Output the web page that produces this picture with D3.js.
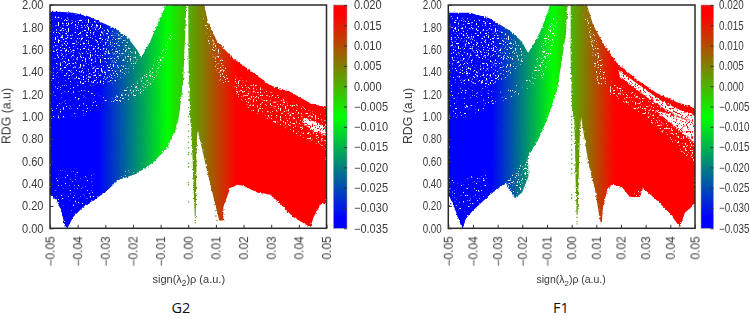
<!DOCTYPE html>
<html>
<head>
<meta charset="utf-8">
<script src="https://cdn.jsdelivr.net/npm/d3@7/dist/d3.min.js"></script>
<style>
html, body { margin: 0; padding: 0; background: #fff; }
svg { display: block; }
text { font-family: "Liberation Sans", sans-serif; fill: #3a3a3a; }
</style>
</head>
<body>
<div id="chart"></div>
<script>
// axes
var xTicks = [-0.05, -0.04, -0.03, -0.02, -0.01, 0, 0.01, 0.02, 0.03, 0.04, 0.05];
var yTicks = [0, 0.2, 0.4, 0.6, 0.8, 1.0, 1.2, 1.4, 1.6, 1.8, 2.0];
var cbarTicks = [0.02, 0.015, 0.01, 0.005, 0, -0.005, -0.01, -0.015, -0.02, -0.025, -0.03, -0.035];
var paletteValues = [-0.035, -0.0325, -0.0075, 0.0175, 0.02];
var paletteColors = ['#0000ff', '#0000ff', '#00ff00', '#ff0000', '#ff0000'];

// G2: outlines of the point clouds as [sign(l2)rho, RDG]
var g2LeftCloud = [[-0.05, 1.94], [-0.0464, 1.94], [-0.0417, 1.93], [-0.0362, 1.90], [-0.0319, 1.85], [-0.0264, 1.79], [-0.0217, 1.70], [-0.0185, 1.60], [-0.0170, 1.53], [-0.0138, 1.67], [-0.0109, 1.84], [-0.0080, 2.0], [-0.0007, 2.0], [-0.0011, 1.75], [-0.0018, 1.33], [-0.0029, 1.085], [-0.0036, 0.97], [-0.0047, 0.88], [-0.0076, 0.72], [-0.0127, 0.59], [-0.0185, 0.49], [-0.0254, 0.43], [-0.0301, 0.32], [-0.0380, 0.19], [-0.0417, 0.10], [-0.0435, 0.01], [-0.0446, 0.01], [-0.0457, 0.14], [-0.0475, 0.25], [-0.05, 0.30]];
var g2RightCloud = [[0, 2.0], [0.0058, 2.0], [0.0072, 1.84], [0.0105, 1.67], [0.0163, 1.52], [0.0232, 1.40], [0.0297, 1.28], [0.0370, 1.22], [0.0442, 1.12], [0.05, 1.08], [0.05, 0.23], [0.0478, 0.21], [0.0453, 0.10], [0.0442, 0.01], [0.0380, 0.10], [0.0333, 0.22], [0.0297, 0.30], [0.0250, 0.32], [0.0199, 0.38], [0.0178, 0.39], [0.0152, 0.36], [0.0127, 0.19], [0.0127, 0.07], [0.0112, 0.07], [0.0091, 0.28], [0.0062, 0.58], [0.0034, 0.88], [0.0031, 0.79], [0.0029, 0.43], [0.0027, 0.09], [0.0024, 0.09], [0.0018, 0.43], [0.0016, 0.61], [0.0011, 0.88], [0.0007, 0.97], [0.0001, 1.51]];
var g2Dense = [
    [[-0.049, 1.9], [-0.035, 1.88], [-0.024, 1.72], [-0.0175, 1.55], [-0.020, 1.42], [-0.027, 1.30], [-0.037, 1.27], [-0.049, 1.45]],
    [[-0.0058, 1.73], [-0.0101, 1.42], [-0.0138, 1.28], [-0.0192, 1.17], [-0.0283, 1.10], [-0.0275, 1.16], [-0.0210, 1.28], [-0.0145, 1.40], [-0.0101, 1.55], [-0.0058, 1.77]],
    [[0.0051, 1.93], [0.0072, 1.66], [0.0116, 1.30], [0.0152, 1.30], [0.0127, 1.52], [0.0080, 1.75]],
    [[0.0170, 1.37], [0.0297, 1.22], [0.0442, 1.06], [0.05, 1.01], [0.05, 0.70], [0.0424, 0.79], [0.0333, 0.92], [0.0225, 1.06], [0.0159, 1.24]]
];
var g2Sparse = [
    [[-0.05, 1.45], [-0.037, 1.27], [-0.029, 1.15], [-0.038, 1.0], [-0.05, 0.98]],
    [[-0.048, 0.25], [-0.048, 0.52], [-0.034, 0.50], [-0.034, 0.28], [-0.042, 0.15]],
    [[-0.0262, 0.44], [-0.0185, 0.50], [-0.0165, 0.58], [-0.0215, 0.56]],
    [[0.032, 0.20], [0.040, 0.12], [0.042, 0.06], [0.035, 0.17]]
];
var g2Gaps = [
    [[0.0417, 0.99], [0.0464, 0.95], [0.0496, 0.91], [0.0496, 0.83], [0.0449, 0.88], [0.0413, 0.94]]
];
var g2ColumnX = [0.0001];
var g2ColumnRdg = [1.40, 1.30, 1.22, 1.15, 1.08, 1.00, 0.93, 0.87, 0.82, 0.77, 0.72, 0.68, 0.66, 0.58, 0.55, 0.41, 0.39, 0.235];
var g2TailX = [0.0025, 0.0025, 0.0096, 0.0100, 0.0100, 0.0104];
var g2TailRdg = [0.07, 0.05, 0.21, 0.16, 0.11, 0.07];

// F1
var f1LeftCloud = [[-0.05, 1.93], [-0.0412, 1.93], [-0.0331, 1.88], [-0.0250, 1.77], [-0.0201, 1.67], [-0.0177, 1.57], [-0.0140, 1.70], [-0.0116, 1.82], [-0.0088, 2.0], [-0.0017, 2.0], [-0.0023, 1.75], [-0.0035, 1.57], [-0.0059, 1.24], [-0.0100, 0.97], [-0.0136, 0.79], [-0.0177, 0.64], [-0.0175, 0.46], [-0.0201, 0.32], [-0.0230, 0.27], [-0.0258, 0.36], [-0.0266, 0.41], [-0.0331, 0.30], [-0.0400, 0.16], [-0.0428, 0.09], [-0.0440, 0.01], [-0.0444, 0.01], [-0.0461, 0.10], [-0.0481, 0.22], [-0.05, 0.30]];
var f1RightCloud = [[-0.0004, 2.0], [0.0062, 2.0], [0.0087, 1.82], [0.0127, 1.66], [0.0184, 1.48], [0.0265, 1.33], [0.0346, 1.21], [0.0427, 1.13], [0.05, 1.08], [0.05, 0.22], [0.0459, 0.14], [0.0439, 0.01], [0.0398, 0.135], [0.0346, 0.25], [0.0289, 0.36], [0.0277, 0.28], [0.0236, 0.28], [0.0204, 0.37], [0.0168, 0.39], [0.0147, 0.36], [0.0127, 0.19], [0.0122, 0.045], [0.0117, 0.045], [0.0095, 0.34], [0.0066, 0.61], [0.0038, 1.0], [0.0034, 0.88], [0.0030, 0.61], [0.0026, 0.25], [0.0024, 0.12], [0.0020, 0.12], [0.0016, 0.43], [0.0014, 0.70], [0.0010, 1.01], [0.0002, 1.04], [-0.0004, 1.51]];
var f1Dense = [
    [[-0.049, 1.9], [-0.033, 1.86], [-0.0215, 1.65], [-0.0185, 1.52], [-0.024, 1.38], [-0.033, 1.28], [-0.045, 1.32], [-0.049, 1.5]],
    [[-0.0157, 1.42], [-0.0116, 1.33], [-0.0088, 1.50], [-0.0055, 1.87], [-0.0072, 1.91], [-0.0108, 1.73], [-0.0140, 1.55]],
    [[0.0046, 1.95], [0.0074, 1.66], [0.0107, 1.27], [0.0143, 1.30], [0.0115, 1.60], [0.0074, 1.84]],
    [[0.0155, 1.33], [0.05, 0.92], [0.05, 0.56], [0.0358, 0.88], [0.0236, 1.10], [0.0155, 1.20]],
    [[-0.0177, 0.64], [-0.0175, 0.46], [-0.0201, 0.32], [-0.0230, 0.27], [-0.0258, 0.36], [-0.0266, 0.41], [-0.0215, 0.55]]
];
var f1Sparse = [
    [[-0.05, 1.5], [-0.045, 1.32], [-0.033, 1.28], [-0.030, 1.13], [-0.042, 1.0], [-0.05, 0.98]],
    [[-0.0299, 1.13], [-0.0210, 1.19], [-0.0129, 1.30], [-0.0149, 1.40], [-0.0230, 1.28], [-0.0291, 1.22]],
    [[-0.0495, 0.45], [-0.034, 0.48], [-0.034, 0.32], [-0.042, 0.12], [-0.046, 0.15], [-0.049, 0.28]],
    [[0.0236, 0.28], [0.0277, 0.28], [0.0289, 0.36], [0.0240, 0.34]]
];
var f1Gaps = [
    [[0.0188, 1.42], [0.0277, 1.28], [0.0358, 1.15], [0.0439, 1.06], [0.05, 1.01], [0.05, 0.95], [0.0439, 1.00], [0.0358, 1.09], [0.0277, 1.22], [0.0196, 1.36]],
    [[0.0338, 1.06], [0.05, 0.95], [0.05, 0.76], [0.0459, 0.84], [0.0398, 0.95]]
];
var f1ColumnX = [0.0];
var f1ColumnRdg = [1.00, 0.97, 0.93, 0.90, 0.86, 0.83, 0.80, 0.75, 0.70, 0.66, 0.62, 0.58, 0.53, 0.49, 0.30, 0.27];
var f1TailX = [0.0022, 0.0022, 0.0022, -0.0495, -0.0490, -0.0485];
var f1TailRdg = [0.10, 0.06, 0.04, 0.20, 0.22, 0.26];

var w = 750;
var h = 319;
var plotTop = 5;
var plotBottom = 228.3;

var svg = d3.select('#chart').append('svg').attr('width', w).attr('height', h);
var defs = svg.append('defs');

function addSpeckle(id, seed, freq, rgb, gain, cut) {
    var f = defs.append('filter').attr('id', id)
            .attr('filterUnits', 'userSpaceOnUse')
            .attr('x', 0).attr('y', 0).attr('width', w).attr('height', h)
            .attr('color-interpolation-filters', 'sRGB');
    f.append('feTurbulence').attr('type', 'fractalNoise')
            .attr('baseFrequency', freq).attr('numOctaves', 2).attr('seed', seed);
    f.append('feColorMatrix').attr('type', 'matrix')
            .attr('values', '0 0 0 0 ' + rgb[0] + '  0 0 0 0 ' + rgb[1] + '  0 0 0 0 ' + rgb[2] + '  ' + gain + ' 0 0 0 ' + cut)
            .attr('result', 'dots');
    f.append('feComposite').attr('in', 'dots').attr('in2', 'SourceAlpha').attr('operator', 'in');
    f.append('feGaussianBlur').attr('stdDeviation', 0.25);
}
addSpeckle('speck-dense', 4, 0.6, [1, 1, 1], 9, -5.3);
addSpeckle('speck-sparse', 11, 0.6, [1, 1, 1], 9, -6.0);
addSpeckle('speck-red', 8, 0.6, [1, 0, 0], 9, -4.9);

// scattered points leave a rough edge, so the clouds are roughened a little
var rough = defs.append('filter').attr('id', 'rough')
        .attr('filterUnits', 'userSpaceOnUse')
        .attr('x', 0).attr('y', 0).attr('width', w).attr('height', h)
        .attr('color-interpolation-filters', 'sRGB');
rough.append('feTurbulence').attr('type', 'fractalNoise')
        .attr('baseFrequency', 0.45).attr('numOctaves', 2).attr('seed', 3).attr('result', 'n');
rough.append('feDisplacementMap').attr('in', 'SourceGraphic').attr('in2', 'n')
        .attr('scale', 3).attr('xChannelSelector', 'R').attr('yChannelSelector', 'G');
rough.append('feGaussianBlur').attr('stdDeviation', 0.35);

function addGradient(id, x1, y1, x2, y2, toOffset) {
    var g = defs.append('linearGradient').attr('id', id)
            .attr('gradientUnits', 'userSpaceOnUse')
            .attr('x1', x1).attr('y1', y1).attr('x2', x2).attr('y2', y2);
    paletteValues.forEach(function (v, i) {
        g.append('stop').attr('offset', toOffset(v)).attr('stop-color', paletteColors[i]);
    });
}

function drawPanel(p) {
    var x = d3.scaleLinear().domain([-0.05, 0.05]).range([p.left, p.right]);
    var y = d3.scaleLinear().domain([0, 2]).range([plotBottom, plotTop]);
    var c = d3.scaleLinear().domain([-0.035, 0.02]).range([plotBottom, plotTop]);
    var line = d3.line().x(function (d) { return x(d[0]); })
            .y(function (d) { return y(d[1]); })
            .curve(d3.curveLinearClosed);

    addGradient(p.id + '-x', x(-0.05), 0, x(0.05), 0, function (v) { return (v + 0.05) / 0.1; });
    addGradient(p.id + '-c', 0, plotBottom, 0, plotTop, function (v) { return (v + 0.035) / 0.055; });

    defs.append('clipPath').attr('id', p.id + '-clip').append('rect')
            .attr('x', p.left).attr('y', plotTop)
            .attr('width', p.right - p.left).attr('height', plotBottom - plotTop);

    var plot = svg.append('g').attr('clip-path', 'url(#' + p.id + '-clip)');
    var clouds = plot.append('g').attr('filter', 'url(#rough)');
    clouds.selectAll('path').data([p.leftCloud, p.rightCloud]).enter().append('path')
            .attr('d', line).attr('fill', 'url(#' + p.id + '-x)');

    plot.selectAll('path.dense').data(p.dense).enter().append('path').attr('class', 'dense')
            .attr('d', line).attr('fill', '#fff').attr('filter', 'url(#speck-dense)');
    plot.selectAll('path.sparse').data(p.sparse).enter().append('path').attr('class', 'sparse')
            .attr('d', line).attr('fill', '#fff').attr('filter', 'url(#speck-sparse)');
    plot.selectAll('path.gap').data(p.gaps).enter().append('path').attr('class', 'gap')
            .attr('d', line).attr('fill', '#fff')
            .attr('filter', 'url(#rough)');
    plot.selectAll('path.gapdots').data(p.gaps).enter().append('path').attr('class', 'gapdots')
            .attr('d', line).attr('fill', '#fff').attr('filter', 'url(#speck-red)');

    // loose points
    plot.selectAll('circle.col').data(p.columnRdg).enter().append('circle').attr('class', 'col')
            .attr('cx', x(p.columnX[0]))
            .attr('cy', function (d) { return y(d); })
            .attr('r', 0.8).attr('fill', '#55c020');
    plot.selectAll('circle.tail').data(p.tailRdg).enter().append('circle').attr('class', 'tail')
            .attr('cx', function (d, i) { return x(p.tailX[i]); })
            .attr('cy', function (d) { return y(d); })
            .attr('r', 0.7)
            .attr('fill', function (d, i) { return p.tailX[i] < -0.04 ? '#0000ff' : (p.tailX[i] > 0.005 ? '#a06a00' : '#55a010'); });

    // frame and axes, gnuplot style: ticks point inward
    svg.append('rect').attr('x', p.left).attr('y', plotTop)
            .attr('width', p.right - p.left).attr('height', plotBottom - plotTop)
            .attr('fill', 'none').attr('stroke', '#2a2a2a').attr('stroke-width', 1.5);

    var xAxis = svg.append('g').attr('transform', 'translate(0,' + plotBottom + ')')
            .call(d3.axisBottom(x).tickValues(xTicks).tickFormat(d3.format('.2f')).tickSize(-3.5));
    xAxis.select('.domain').remove();
    xAxis.selectAll('text')
            .attr('font-size', 12)
            .attr('text-anchor', 'end')
            .attr('y', 0).attr('x', -8).attr('dy', '.36em')
            .attr('transform', 'rotate(-90)');

    var yAxis = svg.append('g').attr('transform', 'translate(' + p.left + ',0)')
            .call(d3.axisLeft(y).tickValues(yTicks).tickFormat(d3.format('.2f')).tickSize(-3.5).tickPadding(6.5));
    yAxis.select('.domain').remove();

    svg.append('rect').attr('x', p.barLeft).attr('y', plotTop)
            .attr('width', p.barRight - p.barLeft).attr('height', plotBottom - plotTop)
            .attr('fill', 'url(#' + p.id + '-c)').attr('stroke', '#999').attr('stroke-width', 0.6);

    var cAxis = svg.append('g').attr('transform', 'translate(' + p.barRight + ',0)')
            .call(d3.axisRight(c).tickValues(cbarTicks).tickFormat(d3.format('.3f')).tickSize(-3).tickPadding(p.barPad));
    cAxis.select('.domain').remove();

    [xAxis, yAxis, cAxis].forEach(function (a) {
        a.attr('font-family', null);
        a.selectAll('line').attr('stroke', '#333');
        a.selectAll('text').attr('fill', '#3a3a3a').attr('filter', 'url(#soft)');
    });
    // labels of the source are squeezed sideways
    yAxis.selectAll('text')
            .attr('font-size', 12)
            .attr('x', -6.5 / p.squeeze)
            .attr('transform', 'scale(' + p.squeeze + ',1)');
    cAxis.selectAll('text')
            .attr('font-size', 12)
            .attr('x', p.barPad / p.squeeze)
            .attr('transform', 'scale(' + p.squeeze + ',1)');

    svg.append('text')
            .attr('transform', 'translate(' + p.yTitleX + ',' + 116 + ') rotate(-90)')
            .attr('text-anchor', 'middle')
            .attr('font-size', 12.3)
            .attr('filter', 'url(#soft)')
            .text('RDG (a.u)');

    var xTitle = svg.append('text')
            .attr('x', x(0) + p.titleShift).attr('y', 283)
            .attr('text-anchor', 'middle')
            .attr('font-size', p.titleSize)
            .attr('filter', 'url(#soft)');
    xTitle.append('tspan').text('sign(\u03bb');
    xTitle.append('tspan').attr('dy', 2.5).attr('font-size', p.titleSize * 0.75).text('2');
    xTitle.append('tspan').attr('dy', -2.5).text(')\u03c1 (a.u.)');

    svg.append('text')
            .attr('x', p.nameX).attr('y', 313)
            .attr('text-anchor', 'middle')
            .attr('font-size', 14.5)
            .style('font-family', '"Open Sans", sans-serif')
            .style('fill', '#111')
            .text(p.name);
}

var soft = defs.append('filter').attr('id', 'soft')
        .attr('x', '-10%').attr('y', '-10%').attr('width', '120%').attr('height', '120%');
soft.append('feGaussianBlur').attr('stdDeviation', 0.25);

drawPanel({
    id: 'g2', name: 'G2', left: 50, right: 326.5, barLeft: 333.5, barRight: 347, nameX: 181, barPad: 7,
    yTitleX: 10.5, titleShift: 0.5, titleSize: 11, squeeze: 0.92,
    leftCloud: g2LeftCloud, rightCloud: g2RightCloud, dense: g2Dense, sparse: g2Sparse, gaps: g2Gaps,
    columnX: g2ColumnX, columnRdg: g2ColumnRdg, tailX: g2TailX, tailRdg: g2TailRdg
});
drawPanel({
    id: 'f1', name: 'F1', left: 448.3, right: 695, barLeft: 701, barRight: 713.5, nameX: 561, barPad: 5.5,
    yTitleX: 412, titleShift: -0.5, titleSize: 10.5, squeeze: 0.82,
    leftCloud: f1LeftCloud, rightCloud: f1RightCloud, dense: f1Dense, sparse: f1Sparse, gaps: f1Gaps,
    columnX: f1ColumnX, columnRdg: f1ColumnRdg, tailX: f1TailX, tailRdg: f1TailRdg
});
</script>
</body>
</html>
